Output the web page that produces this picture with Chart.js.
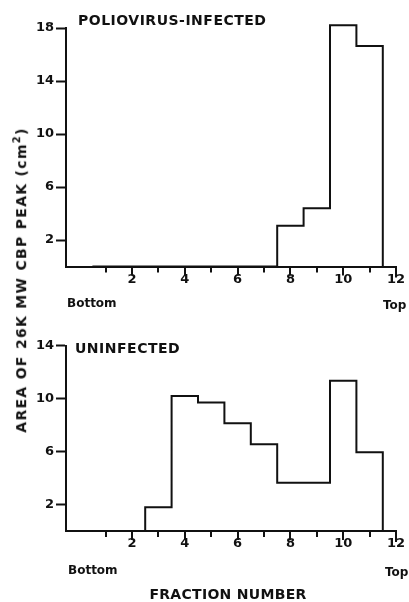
<!DOCTYPE html>
<html>
<head>
<meta charset="utf-8">
<script src="https://cdn.jsdelivr.net/npm/chart.js@4/dist/chart.umd.min.js"></script>
<style>
  html, body { margin: 0; padding: 0; background: #fff; }
  #wrap { position: relative; width: 409px; height: 602px; overflow: hidden; font-family: "DejaVu Sans", sans-serif; color: #111; }
  canvas { position: absolute; left: 0; }
  .lbl { position: absolute; white-space: nowrap; line-height: 1; font-weight: bold; }
</style>
</head>
<body>
<div id="wrap">
  <canvas id="topChart" width="409" height="305" style="top:0"></canvas>
  <canvas id="botChart" width="409" height="297" style="top:305px"></canvas>

  <div class="lbl" style="left:78px; top:13px; font-size:14px; letter-spacing:0.5px">POLIOVIRUS-INFECTED</div>
  <div class="lbl" style="left:75px; top:341px; font-size:14px; letter-spacing:0.5px">UNINFECTED</div>

  <div class="lbl" style="left:67px; top:297px; font-size:12px">Bottom</div>
  <div class="lbl" style="left:383px; top:299px; font-size:12px">Top</div>
  <div class="lbl" style="left:68px; top:564px; font-size:12px">Bottom</div>
  <div class="lbl" style="left:385px; top:566px; font-size:12px">Top</div>

  <div class="lbl" style="left:228px; top:594px; font-size:14px; letter-spacing:0.3px; transform:translate(-50%,-50%)">FRACTION NUMBER</div>
  <div class="lbl" style="left:20px; top:280px; font-size:14px; letter-spacing:1.3px; transform:translate(-50%,-50%) rotate(-90deg)">AREA OF 26K MW CBP PEAK (cm<sup style="font-size:10px">2</sup>)</div>
</div>

<script>
// --- data ---
const fractions = [1, 2, 3, 4, 5, 6, 7, 8, 9, 10, 11];
const infectedArea = [0, 0, 0, 0, 0, 0, 0, 3.08, 4.4, 18.2, 16.65];
const uninfectedArea = [0, 0, 1.8, 10.2, 9.7, 8.15, 6.55, 3.65, 3.65, 11.35, 5.95];

const xTicks = [1, 2, 3, 4, 5, 6, 7, 8, 9, 10, 11, 12];
const yTicksTop = [2, 6, 10, 14, 18];
const yTicksBot = [2, 6, 10, 14];

const ink = '#111';
Chart.defaults.font.family = '"DejaVu Sans", sans-serif';
Chart.defaults.font.weight = 'bold';
Chart.defaults.font.size = 13;
Chart.defaults.color = ink;

// each fraction is a bin from n-0.5 to n+0.5
function histPoints(xs, ys) {
    const pts = xs.map((x, i) => ({ x: x - 0.5, y: ys[i] }));
    const end = xs[xs.length - 1] + 0.5;
    pts.push({ x: end, y: ys[ys.length - 1] });
    pts.push({ x: end, y: 0 });
    return pts;
}

// x tick marks: short on odd, longer on even
const tickMarks = {
    id: 'tickMarks',
    afterDraw(chart) {
        const { ctx, chartArea } = chart;
        const sx = chart.scales.x;
        ctx.save();
        ctx.strokeStyle = ink;
        ctx.lineWidth = 2;
        xTicks.forEach(v => {
            const px = Math.round(sx.getPixelForValue(v));
            const len = v === 12 ? 11 : (v % 2 ? 6 : 9);
            ctx.beginPath();
            ctx.moveTo(px, chartArea.bottom);
            ctx.lineTo(px, chartArea.bottom + len);
            ctx.stroke();
        });
        ctx.restore();
    }
};

function makeChart(id, values, yMax, yTicks, areaTop, areaBottom, canvasH) {
    const ctx = document.getElementById(id).getContext('2d');
    return new Chart(ctx, {
        type: 'line',
        data: {
            datasets: [{
                data: histPoints(fractions, values),
                stepped: 'before',
                borderColor: ink,
                borderWidth: 2,
                pointRadius: 0,
                fill: false,
                clip: false
            }]
        },
        options: {
            responsive: false,
            animation: false,
            layout: { padding: { top: areaTop, right: 13, left: 0, bottom: 0 } },
            plugins: { legend: { display: false }, tooltip: { enabled: false } },
            scales: {
                x: {
                    type: 'linear', min: -0.5, max: 12,
                    afterBuildTicks: s => { s.ticks = xTicks.map(v => ({ value: v })); },
                    afterFit: s => { s.height = canvasH - areaBottom; },
                    ticks: { padding: 0, maxRotation: 0, autoSkip: false,
                             callback: v => (v % 2 === 0 ? String(v) : '') },
                    grid: { drawOnChartArea: false, tickLength: 5, tickColor: 'rgba(0,0,0,0)' },
                    border: { color: ink, width: 2 }
                },
                y: {
                    min: 0, max: yMax,
                    afterBuildTicks: s => { s.ticks = yTicks.map(v => ({ value: v })); },
                    afterFit: s => { s.width = 66; },
                    ticks: { padding: 2 },
                    grid: { drawOnChartArea: false, tickLength: 10, tickColor: ink, tickWidth: 2 },
                    border: { color: ink, width: 2 }
                }
            }
        },
        plugins: [tickMarks]
    });
}

makeChart('topChart', infectedArea, 18, yTicksTop, 28, 266.5, 305);
makeChart('botChart', uninfectedArea, 14, yTicksBot, 40.7, 226, 297);
</script>
</body>
</html>
